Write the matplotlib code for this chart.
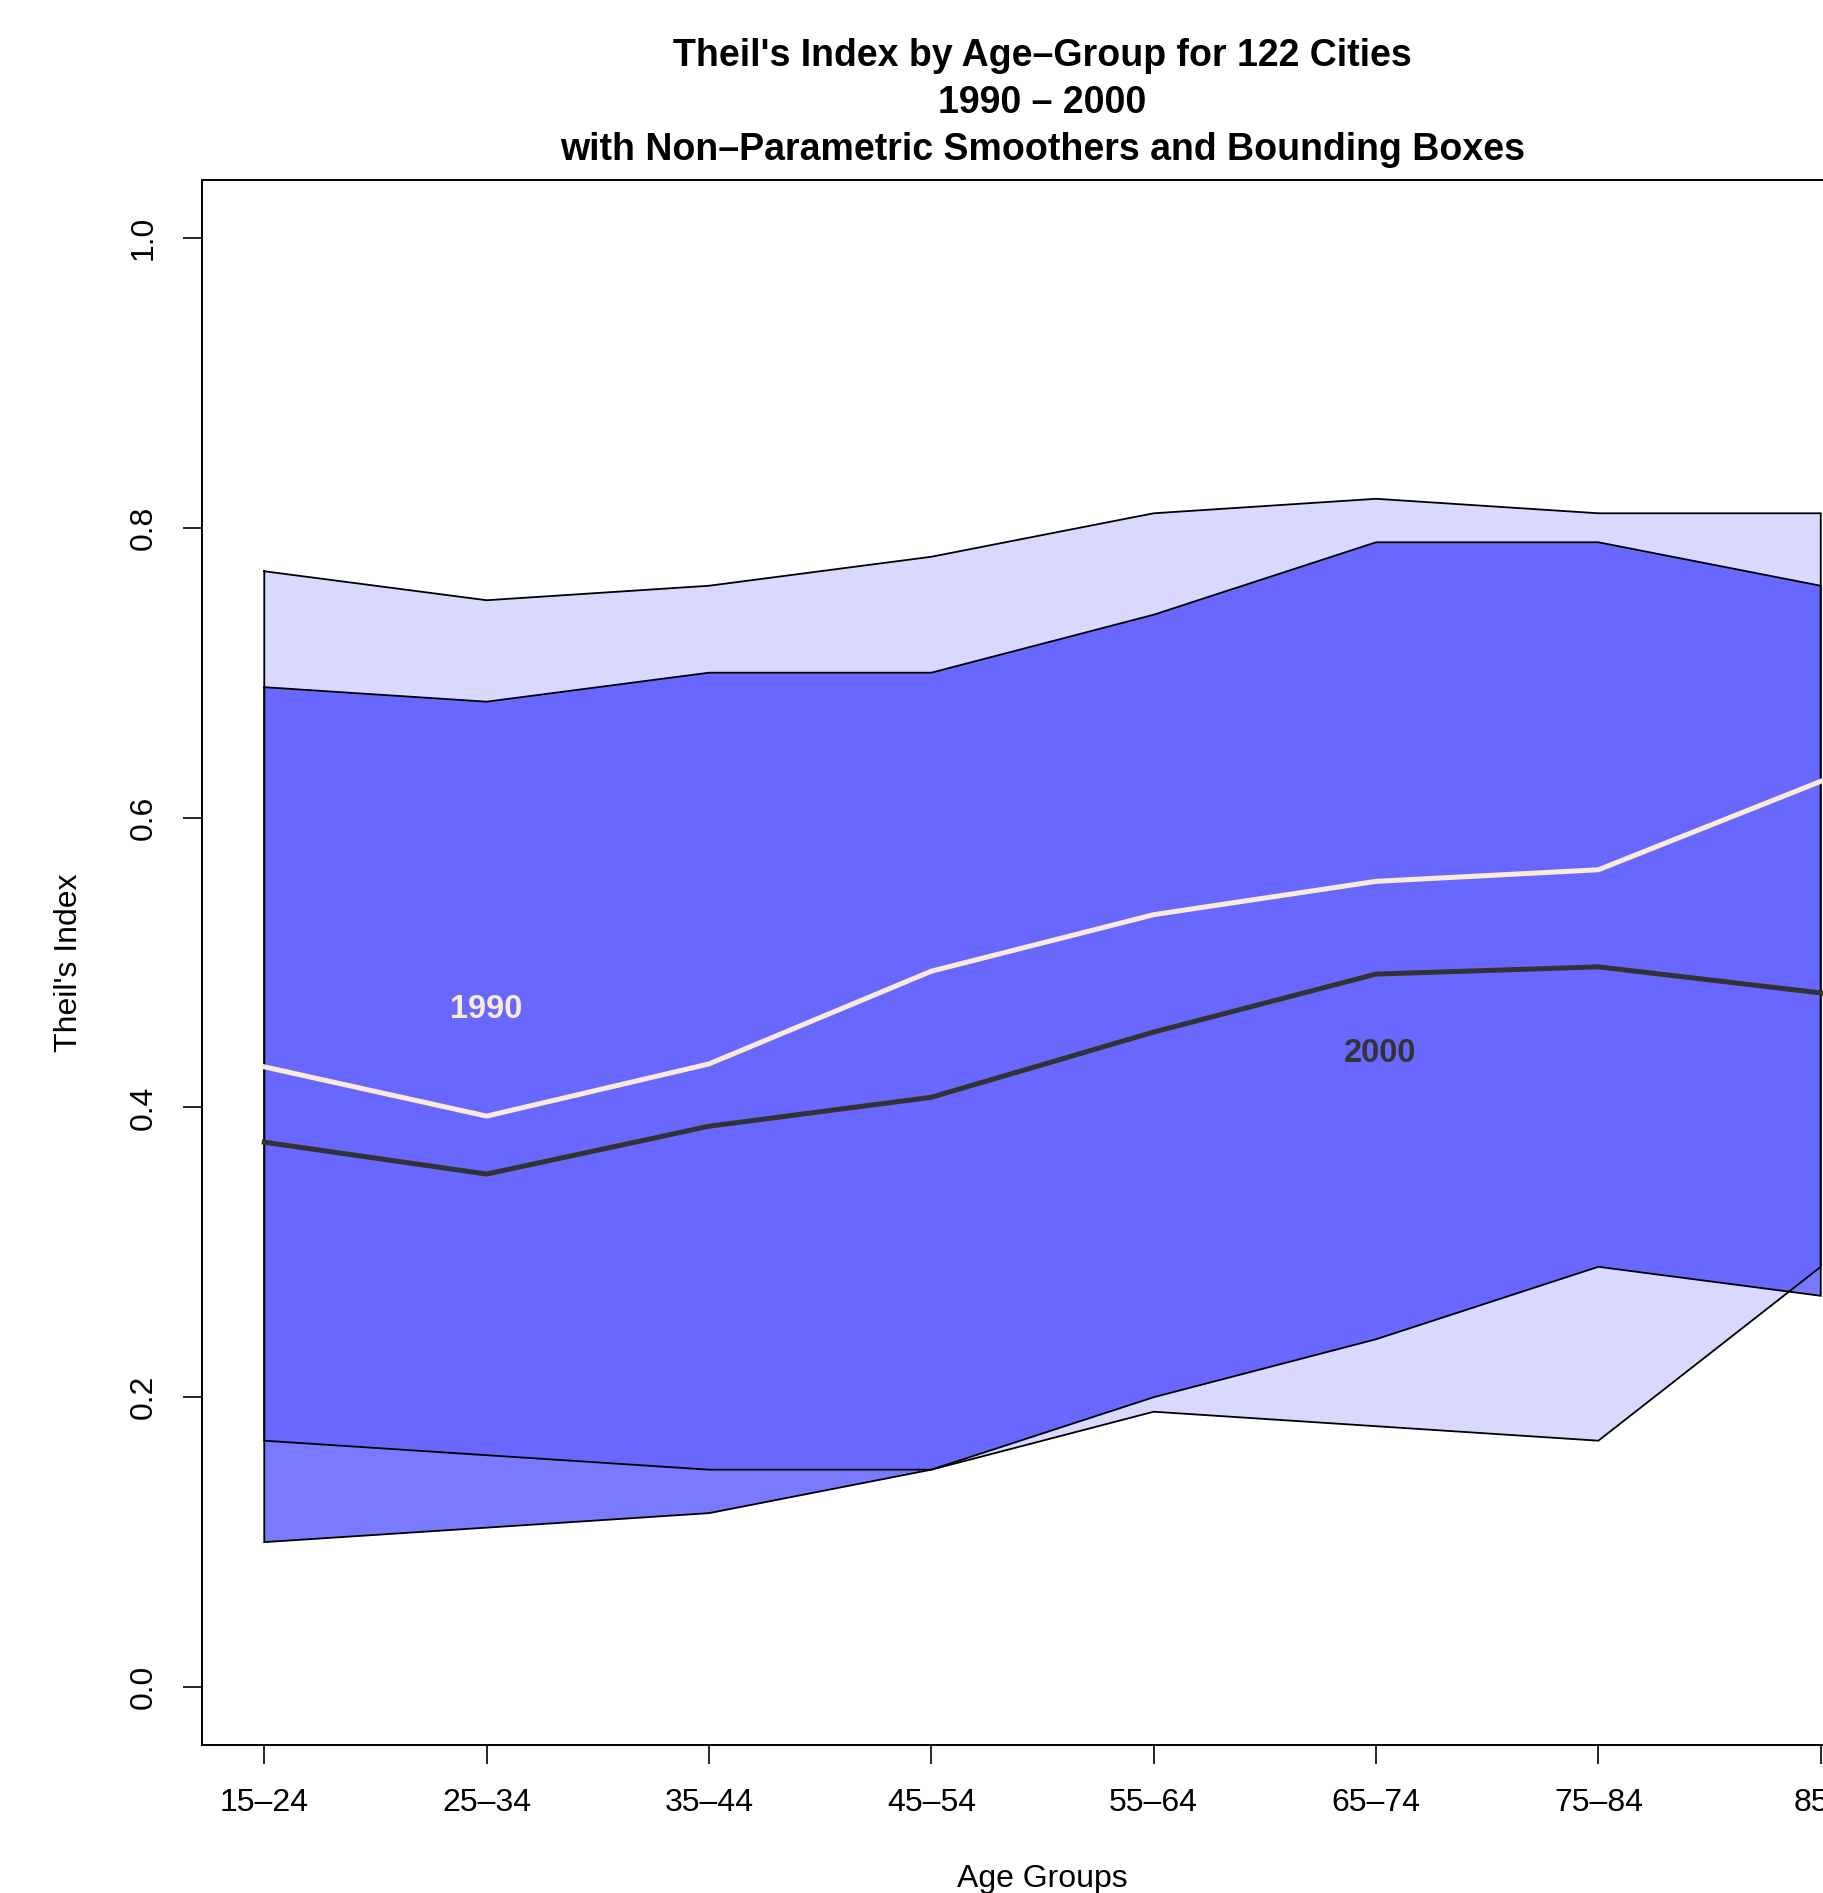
import matplotlib
matplotlib.use("Agg")
import matplotlib.pyplot as plt
import numpy as np

plt.rcParams['font.family'] = ['Liberation Sans', 'DejaVu Sans']

age_groups = ["15\u201324", "25\u201334", "35\u201344", "45\u201354",
              "55\u201364", "65\u201374", "75\u201384", "85+"]

# bounding box (lighter) upper / lower
box_a_upper = [0.77, 0.75, 0.76, 0.78, 0.81, 0.82, 0.81, 0.81]
box_a_lower = [0.17, 0.16, 0.15, 0.15, 0.19, 0.18, 0.17, 0.29]
# bounding box (darker) upper / lower
box_b_upper = [0.69, 0.68, 0.70, 0.70, 0.74, 0.79, 0.79, 0.76]
box_b_lower = [0.10, 0.11, 0.12, 0.15, 0.20, 0.24, 0.29, 0.27]

# smoothers
smooth_1990 = [0.428, 0.394, 0.430, 0.494, 0.533, 0.556, 0.564, 0.625]
smooth_2000 = [0.376, 0.354, 0.387, 0.407, 0.452, 0.492, 0.497, 0.479]

W, H, DPI = 1823, 1893, 100
fig = plt.figure(figsize=(W / DPI, H / DPI), dpi=DPI)
ax_left, ax_right, ax_top, ax_bottom = 202, 1883, 180, 1745
ax = fig.add_axes([ax_left / W, 1 - ax_bottom / H,
                   (ax_right - ax_left) / W, (ax_bottom - ax_top) / H])

x = np.arange(1, len(age_groups) + 1)

ax.fill_between(x, box_a_lower, box_a_upper, facecolor=(0, 0, 1, 0.15),
                edgecolor='none', linewidth=0, zorder=1)
ax.fill_between(x, box_b_lower, box_b_upper, facecolor=(0, 0, 1, 0.52),
                edgecolor='none', linewidth=0, zorder=2)
for up, lo in [(box_a_upper, box_a_lower), (box_b_upper, box_b_lower)]:
    px = np.concatenate([x, x[::-1], x[:1]])
    py = np.concatenate([up, lo[::-1], up[:1]])
    ax.plot(px, py, color='black', lw=1.3, zorder=3, solid_joinstyle='miter')

ax.plot(x, smooth_1990, color='#FAEBD7', lw=3.6, zorder=4)
ax.plot(x, smooth_2000, color='#333333', lw=3.6, zorder=4)

ax.text(2, 0.4675, "1990", color='#FAEBD7', fontsize=23.5, fontweight='bold',
        ha='center', va='center', zorder=5)
ax.text(6.02, 0.4375, "2000", color='#333333', fontsize=23.5, fontweight='bold',
        ha='center', va='center', zorder=5)

ax.set_xlim(0.72, 8.28)
ax.set_ylim(-0.04, 1.04)
ax.set_xticks(x)
ax.set_xticklabels(age_groups)
ax.set_yticks([0.0, 0.2, 0.4, 0.6, 0.8, 1.0])
ax.set_yticklabels(["0.0", "0.2", "0.4", "0.6", "0.8", "1.0"],
                   rotation=90, va='center')
ax.tick_params(axis='both', length=14, width=1.2, labelsize=23, direction='out')
ax.tick_params(axis='x', pad=17)
ax.tick_params(axis='y', pad=17)
for s in ax.spines.values():
    s.set_linewidth(1.4)

fig.text(69 / W, 1 - ((ax_top + ax_bottom) / 2) / H,
         "Theil's Index", rotation=90, fontsize=23, ha='center', va='center')
fig.text(((ax_left + ax_right) / 2) / W, 1 - 1879 / H, "Age Groups",
         fontsize=23, ha='center', va='center')

cx = ((ax_left + ax_right) / 2) / W
titles = ["Theil's Index by Age\u2013Group for 122 Cities",
          "1990 \u2013 2000",
          "with Non\u2013Parametric Smoothers and Bounding Boxes"]
for t, yb in zip(titles, [66, 113, 160]):
    fig.text(cx, 1 - yb / H, t, fontsize=27, fontweight='bold',
             ha='center', va='baseline')

fig.savefig("out.png", dpi=DPI)
